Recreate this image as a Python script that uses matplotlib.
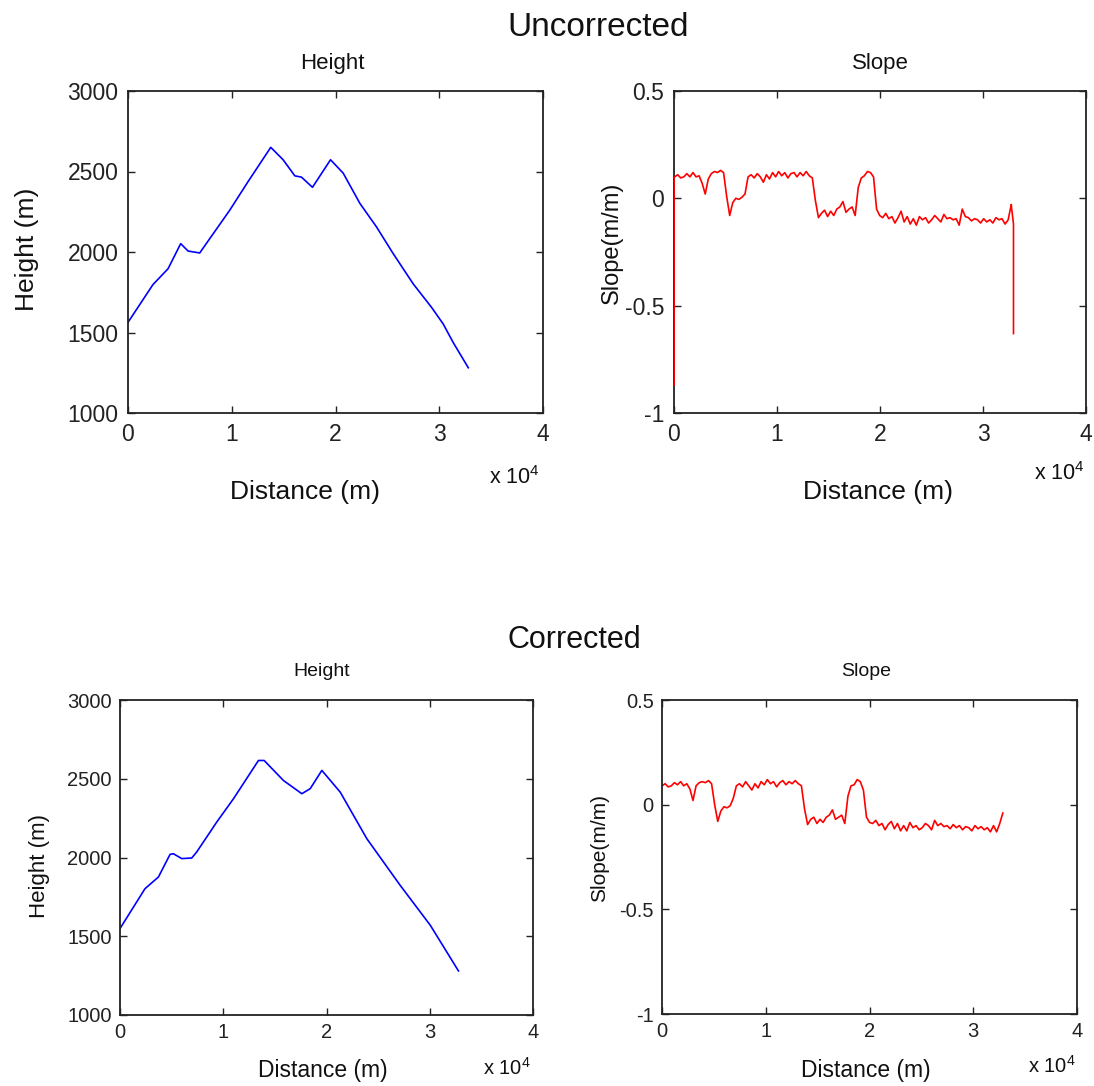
import numpy as np
import matplotlib
matplotlib.use("Agg")
import matplotlib.pyplot as plt
from matplotlib.ticker import FuncFormatter

plt.rcParams['font.family'] = ['Liberation Sans', 'DejaVu Sans']
plt.rcParams['mathtext.fontset'] = 'custom'
plt.rcParams['mathtext.rm'] = 'Liberation Sans'

# ---------------- data ----------------
height_unc_dist = [0, 2410, 3860, 5080, 5790, 6910, 9810, 11580, 13760, 14950, 16080,
                   16720, 17780, 19520, 20740, 22350, 23950, 25560, 27490, 29260,
                   30390, 31350, 32800]
height_unc = [1563, 1798, 1896, 2052, 2006, 1994, 2260, 2438, 2650, 2573, 2473,
              2465, 2402, 2573, 2490, 2302, 2156, 1990, 1802, 1656,
              1552, 1437, 1281]

height_cor_dist = [0, 2420, 3720, 4850, 5170, 5980, 6950, 7430, 9370, 10990, 13410,
                   13960, 15830, 17610, 18420, 19550, 21330, 23910, 27140, 30050, 32780]
height_cor = [1549, 1802, 1876, 2020, 2024, 1993, 1997, 2035, 2225, 2373, 2616,
              2616, 2489, 2405, 2437, 2553, 2415, 2119, 1823, 1570, 1280]

slope_unc_dist = np.linspace(60, 32740, 111)
slope_unc = [0.10, 0.11, 0.095, 0.10, 0.115, 0.10, 0.12, 0.10, 0.105, 0.07,
             0.02, 0.09, 0.115, 0.125, 0.12, 0.13, 0.12, 0.01, -0.08, -0.02,
             0.0, -0.005, 0.005, 0.02, 0.10, 0.11, 0.095, 0.115, 0.10, 0.075,
             0.11, 0.09, 0.12, 0.10, 0.125, 0.105, 0.12, 0.095, 0.115, 0.12,
             0.10, 0.12, 0.105, 0.125, 0.105, 0.095, -0.01, -0.09, -0.07, -0.055,
             -0.085, -0.06, -0.08, -0.05, -0.04, -0.015, -0.065, -0.05, -0.04, -0.08,
             0.05, 0.095, 0.105, 0.125, 0.12, 0.10, -0.05, -0.08, -0.09, -0.07,
             -0.095, -0.085, -0.115, -0.09, -0.06, -0.11, -0.085, -0.12, -0.095, -0.125,
             -0.085, -0.10, -0.09, -0.115, -0.10, -0.08, -0.095, -0.11, -0.075, -0.095,
             -0.09, -0.10, -0.095, -0.125, -0.05, -0.085, -0.09, -0.105, -0.095, -0.10,
             -0.115, -0.095, -0.11, -0.10, -0.115, -0.09, -0.10, -0.095, -0.12, -0.10,
             -0.03]
slope_unc_start_dist = [0, 0]
slope_unc_start = [-0.87, 0.10]
slope_unc_end_dist = [32740, 32960, 32960]
slope_unc_end = [-0.03, -0.12, -0.63]

slope_cor_dist = np.linspace(0, 32850, 111)
slope_cor = [0.09, 0.10, 0.085, 0.09, 0.105, 0.095, 0.11, 0.09, 0.10, 0.075,
             0.02, 0.09, 0.105, 0.11, 0.105, 0.115, 0.10, 0.0, -0.08, -0.03,
             -0.01, -0.015, -0.005, 0.03, 0.09, 0.10, 0.085, 0.11, 0.09, 0.07,
             0.10, 0.08, 0.11, 0.095, 0.12, 0.10, 0.11, 0.085, 0.105, 0.115,
             0.095, 0.11, 0.10, 0.115, 0.10, 0.09, -0.02, -0.095, -0.07, -0.06,
             -0.09, -0.07, -0.085, -0.06, -0.05, -0.025, -0.07, -0.06, -0.05, -0.09,
             0.04, 0.09, 0.095, 0.12, 0.11, 0.07, -0.06, -0.085, -0.09, -0.075,
             -0.10, -0.09, -0.12, -0.095, -0.08, -0.115, -0.09, -0.125, -0.10, -0.125,
             -0.085, -0.11, -0.10, -0.12, -0.11, -0.09, -0.10, -0.12, -0.075, -0.10,
             -0.09, -0.105, -0.10, -0.115, -0.095, -0.11, -0.10, -0.12, -0.105, -0.11,
             -0.125, -0.10, -0.115, -0.105, -0.12, -0.11, -0.13, -0.10, -0.13, -0.09,
             -0.04]

x_ticks = [0, 10000, 20000, 30000, 40000]
height_ticks = [1000, 1500, 2000, 2500, 3000]
slope_ticks = [-1, -0.5, 0, 0.5]

# ---------------- figure ----------------
W, H = 1094, 1086
fig = plt.figure(figsize=(W / 100, H / 100), dpi=100)


def ax_at(l, t, r, b):
    return fig.add_axes([l / W, 1 - b / H, (r - l) / W, (b - t) / H])


def ftext(x, y, s, **kw):
    fig.text(x / W, 1 - y / H, s, **kw)


def style(ax, yticks, ylim, fs, pad):
    ax.set_xlim(0, 40000)
    ax.set_ylim(*ylim)
    ax.set_xticks(x_ticks)
    ax.set_yticks(yticks)
    ax.xaxis.set_major_formatter(FuncFormatter(lambda v, p: f"{v / 1e4:g}"))
    ax.yaxis.set_major_formatter(FuncFormatter(lambda v, p: f"{v:g}"))
    ax.tick_params(direction='in', top=True, right=True, length=5, width=1,
                   labelsize=fs, colors='#222222', pad=pad)
    for s in ax.spines.values():
        s.set_linewidth(1.3)
        s.set_color('#222222')


TXT = '#111111'

# Top-left: uncorrected height
ax1 = ax_at(128, 91, 543, 413)
ax1.plot(height_unc_dist, height_unc, color='#0000ff', lw=1.2)
style(ax1, height_ticks, (1000, 3000), 16.5, 7)

# Top-right: uncorrected slope
ax2 = ax_at(674, 91, 1086, 413)
ax2.plot(slope_unc_start_dist, slope_unc_start, color='#ff0000', lw=1.4, zorder=3)
ax2.plot(np.concatenate([[slope_unc_start_dist[-1]], slope_unc_dist]),
         np.concatenate([[slope_unc_start[-1]], slope_unc]), color='#ff0000', lw=1.2)
ax2.plot(slope_unc_end_dist, slope_unc_end, color='#ff0000', lw=1.2)
style(ax2, slope_ticks, (-1, 0.5), 16.5, 7)

# Bottom-left: corrected height
ax3 = ax_at(120, 700, 533, 1015)
ax3.plot(height_cor_dist, height_cor, color='#0000ff', lw=1.2)
style(ax3, height_ticks, (1000, 3000), 14.5, 6)

# Bottom-right: corrected slope
ax4 = ax_at(662, 700, 1077, 1014)
ax4.plot(slope_cor_dist, slope_cor, color='#ff0000', lw=1.2)
style(ax4, slope_ticks, (-1, 0.5), 14.5, 6)

# Titles
ftext(598, 27, 'Uncorrected', fontsize=24, ha='center', va='center', color=TXT)
ftext(574, 640, 'Corrected', fontsize=22, ha='center', va='center', color=TXT)
ftext(332, 63, 'Height', fontsize=16, ha='center', va='center', color=TXT)
ftext(880, 63, 'Slope', fontsize=16, ha='center', va='center', color=TXT)
ftext(322, 672, 'Height', fontsize=14, ha='center', va='center', color=TXT)
ftext(866, 672, 'Slope', fontsize=14, ha='center', va='center', color=TXT)

# Axis labels
ftext(305, 492, 'Distance (m)', fontsize=19, ha='center', va='center', color=TXT)
ftext(878, 492, 'Distance (m)', fontsize=19, ha='center', va='center', color=TXT)
ftext(323, 1071, 'Distance (m)', fontsize=16.5, ha='center', va='center', color=TXT)
ftext(866, 1071, 'Distance (m)', fontsize=16.5, ha='center', va='center', color=TXT)
ftext(27, 249, 'Height (m)', fontsize=19, ha='center', va='center', rotation=90, color=TXT)
ftext(612, 243, 'Slope(m/m)', fontsize=17, ha='center', va='center', rotation=90, color=TXT)
ftext(40, 866, 'Height (m)', fontsize=16, ha='center', va='center', rotation=90, color=TXT)
ftext(600, 848, 'Slope(m/m)', fontsize=15, ha='center', va='center', rotation=90, color=TXT)

# Offset texts
ftext(514, 478, r'x 10$^{4}$', fontsize=15.5, ha='center', va='center', color=TXT)
ftext(1059, 474, r'x 10$^{4}$', fontsize=15.5, ha='center', va='center', color=TXT)
ftext(507, 1068, r'x 10$^{4}$', fontsize=14.5, ha='center', va='center', color=TXT)
ftext(1052, 1066, r'x 10$^{4}$', fontsize=14.5, ha='center', va='center', color=TXT)

fig.savefig('out.png', dpi=100, facecolor='white')
